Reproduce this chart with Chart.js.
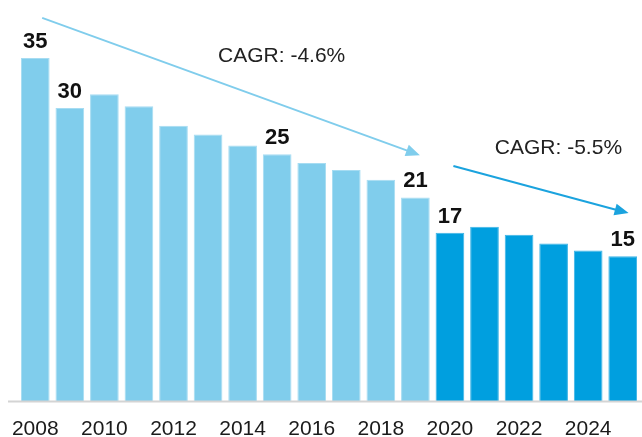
<!DOCTYPE html>
<html>
<head>
<meta charset="utf-8">
<script src="https://cdn.jsdelivr.net/npm/chart.js@4"></script>
<style>
  html, body { margin: 0; padding: 0; background: #fff; }
  #chart { display: block; }
</style>
</head>
<body>
<canvas id="chart" width="642" height="437"></canvas>
<script>
const years = ['2008', '2009', '2010', '2011', '2012', '2013', '2014', '2015', '2016',
               '2017', '2018', '2019', '2020', '2021', '2022', '2023', '2024', '2025'];
const values = [35.0, 29.9, 31.3, 30.1, 28.1, 27.2, 26.1, 25.2, 24.3,
                23.6, 22.6, 20.8, 17.2, 17.8, 17.0, 16.1, 15.4, 14.8];
const tickYears = ['2008', '2010', '2012', '2014', '2016', '2018', '2020', '2022', '2024'];
const labeledYears = ['2008', '2009', '2015', '2019', '2020', '2025'];
const firstForecastYear = '2020';
const cagrTexts = ['CAGR: -4.6%', 'CAGR: -5.5%'];

// arrow geometry in scale units (category index, value)
const arrows = [
    { from: [0.2, 39.1], to: [11.13, 25.1], text: [7.13, 35.2], color: '#80CDEC' },
    { from: [12.1, 24.0], to: [17.17, 19.2], text: [15.14, 25.8], color: '#1BA3DE' }
];

const lightBlue = '#80CDEC';
const darkBlue = '#009FDF';

const barColors = years.map(y => (y >= firstForecastYear ? darkBlue : lightBlue));
const barBorders = years.map(y => (y >= firstForecastYear ? '#3DB4E6' : '#A6DCF2'));

function drawArrow(ctx, x1, y1, x2, y2, color) {
    const ang = Math.atan2(y2 - y1, x2 - x1);
    const len = 14, half = 6;
    ctx.save();
    ctx.strokeStyle = color;
    ctx.fillStyle = color;
    ctx.lineWidth = 2;
    ctx.beginPath();
    ctx.moveTo(x1, y1);
    ctx.lineTo(x2 - Math.cos(ang) * len * 0.8, y2 - Math.sin(ang) * len * 0.8);
    ctx.stroke();
    ctx.beginPath();
    ctx.moveTo(x2, y2);
    ctx.lineTo(x2 - Math.cos(ang) * len - Math.sin(ang) * half, y2 - Math.sin(ang) * len + Math.cos(ang) * half);
    ctx.lineTo(x2 - Math.cos(ang) * len + Math.sin(ang) * half, y2 - Math.sin(ang) * len - Math.cos(ang) * half);
    ctx.closePath();
    ctx.fill();
    ctx.restore();
}

const extras = {
    id: 'extras',
    afterDatasetsDraw(chart) {
        const ctx = chart.ctx;
        const xs = chart.scales.x;
        const ys = chart.scales.y;

        // baseline
        const y0 = ys.getPixelForValue(0);
        ctx.save();
        ctx.strokeStyle = '#D4D4D4';
        ctx.lineWidth = 2;
        ctx.beginPath();
        ctx.moveTo(8, y0);
        ctx.lineTo(chart.width, y0);
        ctx.stroke();

        // value labels
        ctx.fillStyle = '#111';
        ctx.font = 'bold 22px "Liberation Sans", Arial, sans-serif';
        ctx.textAlign = 'center';
        ctx.textBaseline = 'alphabetic';
        const meta = chart.getDatasetMeta(0);
        years.forEach((y, i) => {
            if (!labeledYears.includes(y)) {
                return;
            }
            const bar = meta.data[i];
            ctx.fillText(String(Math.round(values[i])), bar.x, bar.y - 10);
        });

        // CAGR arrows
        ctx.font = '21px "Liberation Sans", Arial, sans-serif';
        ctx.fillStyle = '#222';
        ctx.textBaseline = 'middle';
        arrows.forEach((a, i) => {
            const idx = (v) => xs.getPixelForValue(0) + v * (xs.getPixelForValue(1) - xs.getPixelForValue(0));
            drawArrow(ctx, idx(a.from[0]), ys.getPixelForValue(a.from[1]),
                      idx(a.to[0]), ys.getPixelForValue(a.to[1]), a.color);
            ctx.fillText(cagrTexts[i], idx(a.text[0]), ys.getPixelForValue(a.text[1]));
        });
        ctx.restore();
    }
};

new Chart(document.getElementById('chart').getContext('2d'), {
    type: 'bar',
    data: {
        labels: years,
        datasets: [{
            data: values,
            backgroundColor: barColors,
            borderColor: barBorders,
            borderWidth: 1,
            categoryPercentage: 1,
            barPercentage: 0.83
        }]
    },
    options: {
        responsive: false,
        animation: false,
        layout: { padding: { left: 18, right: 2, top: 9, bottom: 0 } },
        plugins: {
            legend: { display: false },
            tooltip: { enabled: false }
        },
        scales: {
            x: {
                grid: { display: false },
                border: { display: false },
                afterFit: (scale) => { scale.height = 35.5; },
                ticks: {
                    autoSkip: false,
                    maxRotation: 0,
                    padding: 9,
                    color: '#1a1a1a',
                    font: { family: '"Liberation Sans", Arial, sans-serif', size: 21, lineHeight: 1 },
                    callback: (v, i) => (tickYears.includes(years[i]) ? years[i] : '')
                }
            },
            y: {
                display: false,
                min: 0,
                max: 40
            }
        }
    },
    plugins: [extras]
});
</script>
</body>
</html>
